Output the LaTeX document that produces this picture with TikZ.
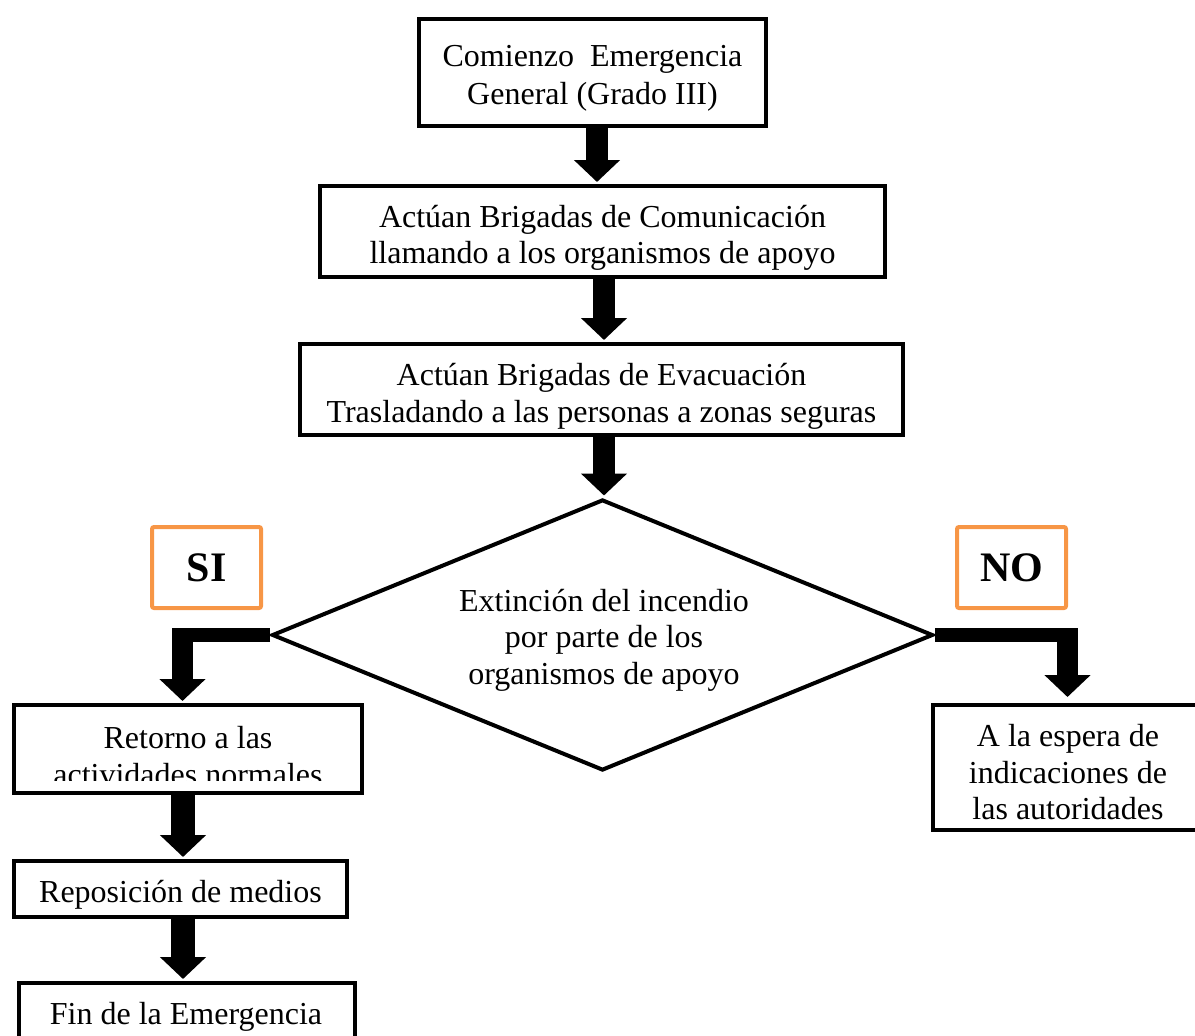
\documentclass[tikz,border=0pt]{standalone}
\usepackage{fontspec}
\setmainfont{Liberation Serif}
\usetikzlibrary{arrows.meta,shapes.geometric}
\definecolor{accentorange}{HTML}{F79646}

\tikzset{
  txt/.style={font=\fontsize{32}{36.5}\selectfont, align=center, inner sep=0pt},
  stepbox/.style={draw=black, line width=4pt, rectangle, inner sep=0pt},
  answerbox/.style={draw=accentorange, line width=4pt, rounded corners=2pt,
    minimum width=109pt, minimum height=81pt, inner sep=0pt,
    font=\fontsize{42}{46}\selectfont\bfseries},
  decision/.style={draw=black, line width=4pt, diamond, shape aspect=2.44,
    minimum width=661pt, minimum height=271pt, inner sep=0pt},
  blockarrow/.style={line width=22pt, -{Triangle[length=22pt,width=45pt]}},
  bar/.style={line width=14pt, line cap=butt},
}

\begin{document}
\begin{tikzpicture}[x=1pt,y=-1pt]
  \useasboundingbox (0,0) rectangle (1195,1036);
  \clip (0,0) rectangle (1195,1036);

  % main sequence
  \node[stepbox, minimum width=347pt, minimum height=107pt] (b1) at (592.5,72.5) {};
  \node[txt, font=\fontsize{32}{38}\selectfont] (b1t) at (592.5,78.5)
    {Comienzo~~Emergencia\\General (Grado III)};
  \node[stepbox, minimum width=565pt, minimum height=91pt] (b2) at (602.5,231.5) {};
  \node[txt] (b2t) at (602.5,238)
    {Actúan Brigadas de Comunicación\\llamando a los organismos de apoyo};
  \node[stepbox, minimum width=603pt, minimum height=91pt] (b3) at (601.5,389.5) {};
  \node[txt] (b3t) at (601.5,396.5)
    {Actúan Brigadas de Evacuación\\Trasladando a las personas a zonas seguras};

  % decision
  \node[decision] (dia) at (602.5,635) {};
  \node[txt] (diat) at (604,640) {Extinción del incendio\\por parte de los\\organismos de apoyo};

  % answer labels
  \node[answerbox] (si) at (206.5,567.5) {SI};
  \node[answerbox] (no) at (1011.5,567.5) {NO};

  % yes branch
  \node[stepbox, minimum width=348pt, minimum height=88pt] (b4) at (188,749) {};
  \begin{scope}
    \clip (14,705) rectangle (362,780);
    \node[txt] (b4t) at (188,756) {Retorno a las\\actividades normales};
  \end{scope}
  \node[stepbox, minimum width=333pt, minimum height=56pt] (b5) at (180.5,889) {};
  \node[txt] (b5t) at (180.5,895) {Reposición de medios};
  \node[stepbox, minimum width=336pt, minimum height=90pt] (b6) at (187,1028) {};
  \node[txt] (b6t) at (186,1017) {Fin de la Emergencia};

  % no branch
  \node[stepbox, minimum width=300pt, minimum height=125pt] (b7) at (1083,767.5) {};
  \node[txt] (b7t) at (1068,772.5) {A la espera de\\indicaciones de\\las autoridades};

  % straight arrows
  \draw[blockarrow] ([xshift=4.5pt]b1.south) -- ([xshift=-5.5pt,yshift=2pt]b2.north);
  \draw[blockarrow] ([xshift=1.5pt]b2.south) -- ([xshift=2.5pt,yshift=2pt]b3.north);
  \draw[blockarrow] ([xshift=2.5pt]b3.south) -- ([xshift=1.5pt,yshift=2pt]dia.north);
  \draw[blockarrow, line width=24pt] ([xshift=-5pt]b4.south) -- ([xshift=2.5pt,yshift=2pt]b5.north);
  \draw[blockarrow, line width=24pt] ([xshift=2.5pt]b5.south) -- ([xshift=-4pt,yshift=2pt]b6.north);

  % bent arrows leaving the decision
  \coordinate (kL) at (182.5,635);
  \coordinate (kR) at (1067.5,635);
  \draw[bar] (dia.west) -- ([xshift=-10.5pt]kL);
  \draw[blockarrow, line width=21pt] ([yshift=7pt]kL) -- ([yshift=2pt]b4.north -| kL);
  \draw[bar] (dia.east) -- ([xshift=10.5pt]kR);
  \draw[blockarrow, line width=21pt] ([yshift=7pt]kR) -- ([yshift=6pt]b7.north -| kR);
\end{tikzpicture}
\end{document}
